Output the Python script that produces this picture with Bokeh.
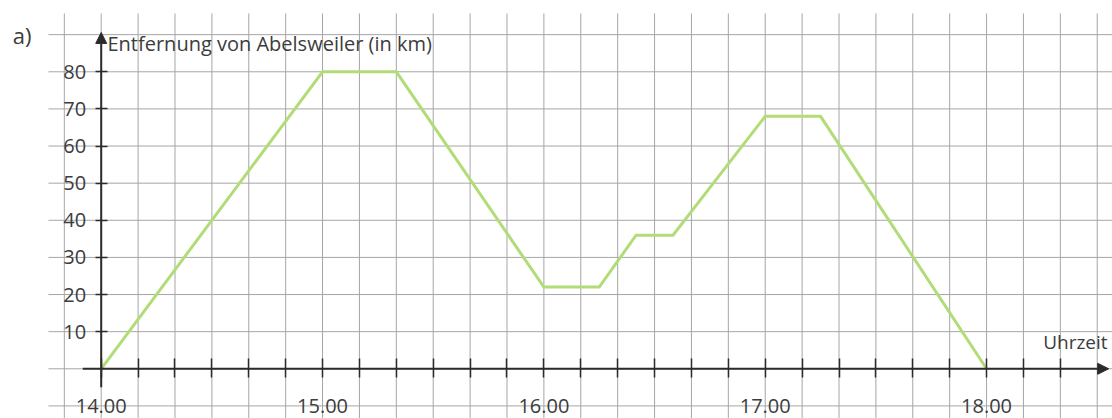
from bokeh.plotting import figure
from bokeh.models import Range1d, LinearAxis, FixedTicker, Arrow, NormalHead
from bokeh.core.properties import value
from bokeh.embed import file_html
from bokeh.resources import INLINE

# ---- data ----
clock_times = ["14.00", "15.00", "15.20", "16.00", "16.15", "16.25", "16.35", "17.00", "17.15", "18.00"]
distance_km = [0, 80, 80, 22, 22, 36, 36, 68, 68, 0]
hour_labels = ["14.00", "15.00", "16.00", "17.00", "18.00"]
y_tick_values = [10, 20, 30, 40, 50, 60, 70, 80]
y_title = "Entfernung von Abelsweiler (in km)"
x_title = "Uhrzeit"
part_label = "a)"


def to_min(s):
    h, m = s.split(".")
    return (int(h) - 14) * 60 + int(m)


minutes = [to_min(t) for t in clock_times]
hour_ticks = [to_min(t) for t in hour_labels]
minor_ticks = [m for m in range(10, 261, 10) if m not in hour_ticks]

FONT = "Open Sans"
TEXT = "#3c3c3c"
AXIS = "#2b2b2b"
GRID = "#a6a6a6"
GREEN = "#b2dc78"

X0, X1 = -27.30, 274.14
Y0, Y1 = -13.39, 99.20

p = figure(width=1112, height=418, x_range=Range1d(X0, X1), y_range=Range1d(Y0, Y1),
           output_backend="svg", toolbar_location=None, x_axis_type=None, y_axis_type=None,
           min_border=0, min_border_left=0, min_border_right=0, min_border_top=0, min_border_bottom=0)
p.outline_line_color = None
p.background_fill_color = "white"
p.border_fill_color = "white"

# grid paper
vx = list(range(-10, 271, 10))
p.segment(x0=vx, y0=[Y0] * len(vx), x1=vx, y1=[95.7] * len(vx), line_color=GRID, line_width=1)
hy = list(range(-10, 91, 10))
p.segment(x0=[-14.3] * len(hy), y0=hy, x1=[X1] * len(hy), y1=hy, line_color=GRID, line_width=1)

# distance line
p.line(minutes, distance_km, line_color=GREEN, line_width=3, line_join="miter")

# axes lines with arrows
p.add_layout(Arrow(end=NormalHead(size=11, fill_color=AXIS, line_color=AXIS, line_width=1),
                   x_start=-5, y_start=0, x_end=273.1, y_end=0, line_color=AXIS, line_width=2))
p.add_layout(Arrow(end=NormalHead(size=11, fill_color=AXIS, line_color=AXIS, line_width=1),
                   x_start=0, y_start=-5, x_end=0, y_end=90.6, line_color=AXIS, line_width=2))

# x axis ticks and labels
xaxis = LinearAxis(ticker=FixedTicker(ticks=hour_ticks, minor_ticks=minor_ticks), fixed_location=0,
                   axis_line_color=None,
                   major_tick_in=10, major_tick_out=9, minor_tick_in=10, minor_tick_out=9,
                   major_tick_line_color=AXIS, minor_tick_line_color=AXIS,
                   major_tick_line_width=1.5, minor_tick_line_width=1.5,
                   major_label_overrides={t: l for t, l in zip(hour_ticks, hour_labels)},
                   major_label_standoff=21,
                   major_label_text_font=FONT, major_label_text_font_size="20px",
                   major_label_text_color=TEXT)
p.add_layout(xaxis, "below")

# y axis ticks and labels
yaxis = LinearAxis(ticker=FixedTicker(ticks=y_tick_values, minor_ticks=[]), fixed_location=0,
                   axis_line_color=None,
                   major_tick_in=6, major_tick_out=6, minor_tick_in=0, minor_tick_out=0,
                   major_tick_line_color=AXIS, major_tick_line_width=1.5,
                   major_label_standoff=9,
                   major_label_text_font=FONT, major_label_text_font_size="20px",
                   major_label_text_color=TEXT)
p.add_layout(yaxis, "left")

# titles
p.text(x=[1.7], y=[87.7], text=[y_title], text_font=value(FONT), text_font_size="20px",
       text_color=TEXT, text_align="left", text_baseline="alphabetic")
p.text(x=[272.8], y=[7.1], text=[x_title], text_font=value(FONT), text_font_size="19px",
       text_color=TEXT, text_align="right", text_baseline="alphabetic")
p.text(x=[-24.0], y=[89.9], text=[part_label], text_font=value(FONT), text_font_size="22px",
       text_color=TEXT, text_align="left", text_baseline="alphabetic")

open("out.html", "w").write(file_html(p, INLINE))
